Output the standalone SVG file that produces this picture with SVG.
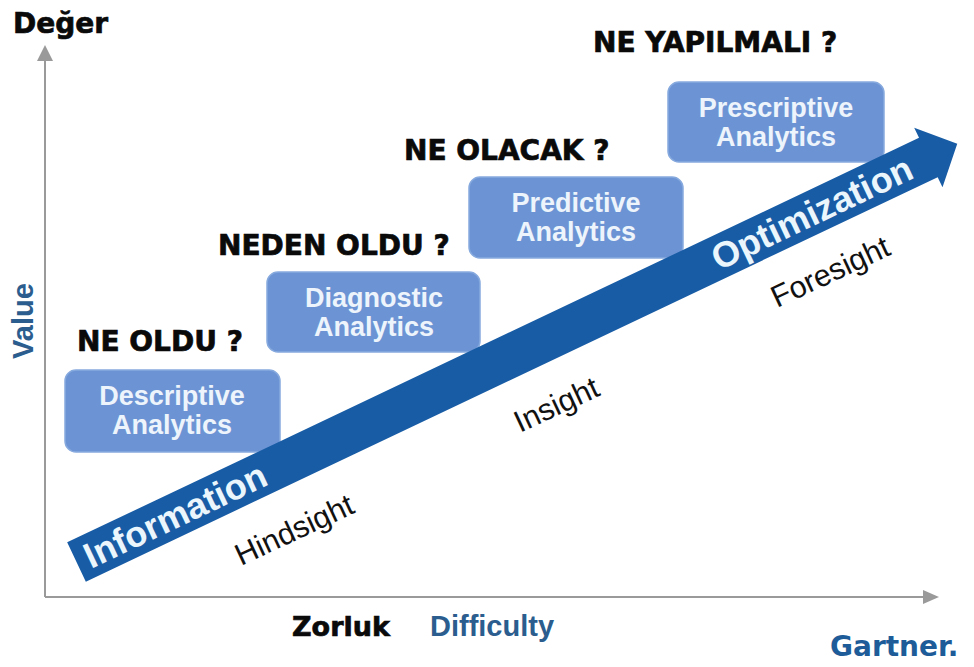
<svg xmlns="http://www.w3.org/2000/svg" width="974" height="667" viewBox="0 0 974 667">
<style>
.q{font-family:"DejaVu Sans",sans-serif;font-weight:bold;font-size:28px;fill:#0a0a0a;stroke:#0a0a0a;stroke-width:0.7}
.box{fill:#6c94d4;stroke:#86a9de;stroke-width:1.5}
.bt{font-family:"Liberation Sans",Arial,sans-serif;font-weight:bold;font-size:27px;fill:#eef4fb;text-anchor:middle}
.sight{font-family:"Liberation Sans",Arial,sans-serif;font-size:30.5px;fill:#111}
.band{font-family:"Liberation Sans",Arial,sans-serif;font-weight:bold;font-size:36px;fill:#eaf5fc}
.ax{stroke:#9a9a9a;stroke-width:2;fill:none}
.axh{fill:#9a9a9a}
.blue{font-family:"Liberation Sans",Arial,sans-serif;font-weight:bold;font-size:29px;fill:#2b5d8e}
</style>
<rect width="974" height="667" fill="#ffffff"/>
<g id="axes">
<path class="ax" d="M45,597 L45,58"/>
<path class="axh" d="M45,45 L53,61 L37,61 Z"/>
<path class="ax" d="M45,597 L925,597"/>
<path class="axh" d="M939,597 L923,590 L923,604 Z"/>
</g>
<text class="q" x="13" y="33">Değer</text>
<text class="blue" transform="translate(33,321) rotate(-90)" text-anchor="middle">Value</text>
<text class="q" x="292" y="636" style="font-size:27px">Zorluk</text>
<text class="blue" x="430" y="636">Difficulty</text>
<text x="830" y="656" style="font-family:'DejaVu Sans',sans-serif;font-weight:bold;font-size:28px;fill:#1d5c98">Gartner.</text>
<g id="descriptive">
<text class="q" x="77" y="351">NE OLDU ?</text>
<rect class="box" x="65" y="370" width="215" height="82" rx="11"/>
<text class="bt" x="172" y="405">Descriptive</text>
<text class="bt" x="172" y="434">Analytics</text>
</g>
<g id="diagnostic">
<text class="q" x="218" y="255">NEDEN OLDU ?</text>
<rect class="box" x="267" y="272" width="213" height="80" rx="11"/>
<text class="bt" x="374" y="307">Diagnostic</text>
<text class="bt" x="374" y="336">Analytics</text>
</g>
<g id="predictive">
<text class="q" x="404" y="160">NE OLACAK ?</text>
<rect class="box" x="469" y="177" width="214" height="81" rx="11"/>
<text class="bt" x="576" y="212">Predictive</text>
<text class="bt" x="576" y="241">Analytics</text>
</g>
<g id="prescriptive">
<text class="q" x="593" y="52">NE YAPILMALI ?</text>
<rect class="box" x="668" y="82" width="216" height="80" rx="11"/>
<text class="bt" x="776" y="117">Prescriptive</text>
<text class="bt" x="776" y="146">Analytics</text>
</g>
<g id="connectors">
<g transform="translate(76.5,562) rotate(-25.4)">
<path d="M0,-21.75 L943,-21.75 L943,-33 L975,0 L943,33 L943,21.75 L0,21.75 Z" fill="#185ca5"/>
<text class="band" x="10" y="12.5">Information</text>
<text class="band" x="705" y="12.5">Optimization</text>
</g>
</g>
<text class="sight" transform="translate(241,566) rotate(-25)">Hindsight</text>
<text class="sight" transform="translate(520,433) rotate(-25)">Insight</text>
<text class="sight" transform="translate(777,308) rotate(-25)">Foresight</text>
</svg>
